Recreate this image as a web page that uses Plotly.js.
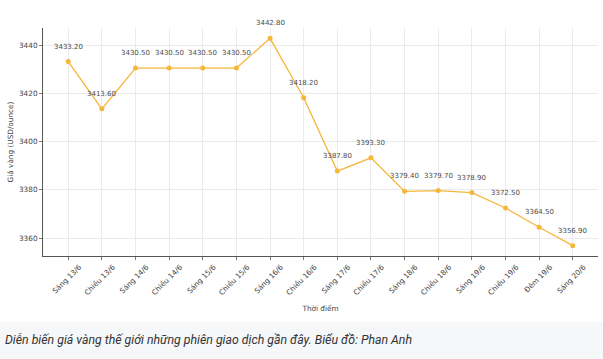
<!DOCTYPE html>
<html>
<head>
<meta charset="utf-8">
<script src="https://cdn.plot.ly/plotly-3.0.1.min.js"></script>
<style>
  html, body { margin: 0; padding: 0; background: #ffffff; }
  #chart { width: 603px; height: 322px; }
  #caption { width: 603px; height: 37px; background: #f6f7f9; box-sizing: border-box;
    padding: 11px 0 0 5px; font-family: Roboto, "Liberation Sans", sans-serif; font-style: italic;
    font-size: 12.3px; color: #333; white-space: nowrap; }
</style>
</head>
<body>
<div id="chart"></div>
<div id="caption">Diễn biến giá vàng thế giới những phiên giao dịch gần đây. Biểu đồ: Phan Anh</div>
<script>
const categories = ["Sáng 13/6", "Chiều 13/6", "Sáng 14/6", "Chiều 14/6", "Sáng 15/6", "Chiều 15/6",
  "Sáng 16/6", "Chiều 16/6", "Sáng 17/6", "Chiều 17/6", "Sáng 18/6", "Chiều 18/6",
  "Sáng 19/6", "Chiều 19/6", "Đêm 19/6", "Sáng 20/6"];
const prices = [3433.20, 3413.60, 3430.50, 3430.50, 3430.50, 3430.50, 3442.80, 3418.20,
  3387.80, 3393.30, 3379.40, 3379.70, 3378.90, 3372.50, 3364.50, 3356.90];
const yTicks = [3360, 3380, 3400, 3420, 3440];

const lineColor = "#F6B63A";
const textColor = "#444444";
const font = "DejaVu Sans, sans-serif";

const trace = {
  x: categories, y: prices, type: "scatter", mode: "lines+markers",
  line: { color: lineColor, width: 1.3 },
  marker: { color: lineColor, size: 5 },
  hoverinfo: "skip", cliponaxis: false
};

const annotations = categories.map((c, i) => ({
  x: c, y: prices[i], xref: "x", yref: "y", text: prices[i].toFixed(2),
  showarrow: false, yanchor: "middle", xanchor: "center", yshift: 15,
  font: { family: font, size: 7, color: "#4a4a4a" }
}));

const minV = Math.min(...prices), maxV = Math.max(...prices);
const pad = (maxV - minV) * 0.05;

const layout = {
  width: 603, height: 322,
  margin: { l: 43, r: 5, t: 28, b: 66 },
  paper_bgcolor: "#ffffff", plot_bgcolor: "#ffffff",
  showlegend: false,
  font: { family: font, size: 7, color: textColor },
  xaxis: {
    type: "category", range: [-0.75, categories.length - 1 + 0.75],
    tickangle: -45, ticklabelshift: 11,
    tickfont: { family: font, size: 7.3, color: textColor },
    ticks: "outside", ticklen: 3, tickcolor: "#555", tickwidth: 0.8,
    showgrid: true, gridcolor: "#e6e6e6", gridwidth: 0.8,
    showline: true, linecolor: "#555", linewidth: 1, zeroline: false,
    title: { text: "Thời điểm", font: { family: font, size: 7.3, color: textColor }, standoff: 9 },
    automargin: false
  },
  yaxis: {
    range: [minV - pad, maxV + pad],
    tickvals: yTicks, ticktext: yTicks.map(String),
    tickfont: { family: font, size: 7.3, color: textColor },
    ticks: "outside", ticklen: 3, tickcolor: "#555", tickwidth: 0.8,
    showgrid: true, gridcolor: "#e6e6e6", gridwidth: 0.8,
    showline: true, linecolor: "#555", linewidth: 1, zeroline: false,
    title: { text: "Giá vàng (USD/ounce)", font: { family: font, size: 7.3, color: textColor }, standoff: 4 },
    automargin: false
  },
  annotations: annotations
};

Plotly.newPlot("chart", [trace], layout, { displayModeBar: false, staticPlot: true });
</script>
</body>
</html>
